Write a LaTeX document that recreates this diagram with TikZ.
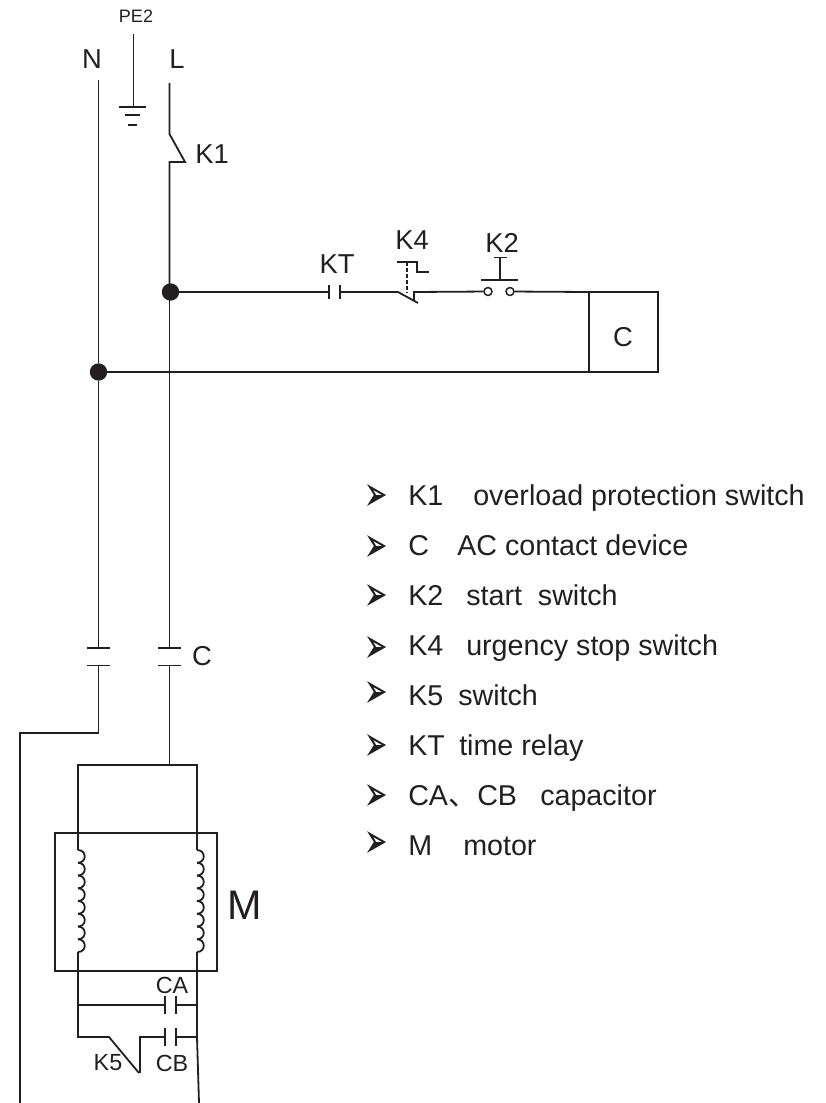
\documentclass[tikz,border=0pt]{standalone}
\usepackage{fontspec}
\setmainfont{Liberation Sans}
\newfontfamily\cjkfont{Noto Sans CJK SC}
\definecolor{ink}{HTML}{231F20}
\tikzset{
    wire/.style={draw=ink, line width=1.35pt},
    dot/.style={circle, fill=ink, inner sep=0pt, minimum size=13pt},
    term/.style={circle, draw=ink, line width=1.1pt, fill=white, inner sep=0pt, minimum size=6pt},
    boxed/.style={draw=ink, line width=1.35pt, inner sep=0pt, outer sep=0pt},
    lbl/.style={text=ink, font=\fontsize{20.5}{20.5}\selectfont, inner sep=0pt},
    smalllbl/.style={text=ink, font=\fontsize{17.5}{17.5}\selectfont, inner sep=0pt},
    pelbl/.style={text=ink, font=\fontsize{13.5}{13.5}\selectfont, inner sep=0pt},
    itemlbl/.style={text=ink, font=\fontsize{21.5}{21.5}\selectfont, inner sep=0pt, anchor=base west},
    legendmark/.pic={
        \draw[ink, line width=1.5pt, line join=miter, fill=white] (-7,-8) -- (7,0) -- (-7,8) -- (-2,0) -- cycle;
        \fill[ink] (-2,0) -- (8,0) -- (-8,9) -- cycle;
    }
}

\begin{document}
\begin{tikzpicture}[x=0.75pt, y=-0.75pt]
    \useasboundingbox (0,0) rectangle (825,1103);

    % Supply lines
    \node[lbl] (Nlabel) at (92,59) {N};
    \node[lbl] (Llabel) at (177,59) {L};
    \node[pelbl] (PElabel) at (136,16) {PE2};
    \coordinate (Ntop) at (98.5,80);
    \coordinate (Ltop) at (169.5,83);
    \coordinate (Ljoin) at (169.5,292);
    \node[dot] (Ndot) at (98.5,372) {};
    \node[dot] (Ldot) at (170.5,292) {};

    % Earth
    \coordinate (PEtop) at (133.5,34);
    \coordinate (PEbar) at (133.5,107);
    \draw[wire] (PEtop) -- (PEbar);
    \draw[wire] (119,107) -- (146,107);
    \draw[wire] (125,115) -- (140,115);
    \draw[wire] (128,125) -- (137,125);

    % K1
    \coordinate (K1a) at (169.5,134);
    \coordinate (K1b) at (185,162);
    \coordinate (K1c) at (169.5,162);
    \draw[wire] (Ltop) -- (K1a) -- (K1b) -- (K1c) -- (Ljoin);
    \node[lbl] (K1label) at (212,154) {K1};

    % Main contacts C
    \coordinate (Nplateup) at (98.5,648);
    \coordinate (Nplatedown) at (98.5,665.5);
    \coordinate (Lplateup) at (169.5,648);
    \coordinate (Lplatedown) at (169.5,665.5);
    \draw[wire] (Ntop) -- (Ndot) -- (Nplateup);
    \draw[wire] (Ljoin) -- (Lplateup);
    \foreach \x in {98.5,169.5} {
        \draw[wire] (\x-11.5,648) -- (\x+11.5,648);
        \draw[wire] (\x-11.5,665.5) -- (\x+11.5,665.5);
    }
    \node[lbl] (Clabel) at (202,656) {C};

    % Control branch
    \coordinate (KTa) at (329,292);
    \coordinate (KTb) at (340,292);
    \coordinate (K4a) at (398,292);
    \coordinate (K4b) at (418,303);
    \coordinate (K4c) at (414,300.5);
    \coordinate (K4d) at (414,292);
    \node[term] (K2a) at (488,291.5) {};
    \node[term] (K2b) at (510,291.5) {};
    \draw[wire] (Ldot) -- (KTa);
    \draw[wire] (KTb) -- (K4a) -- (K4b);
    \draw[wire] (K4c) -- (K4d) -- (K2a);
    \draw[wire] (329,285) -- (329,299);
    \draw[wire] (340,285) -- (340,299);
    \node[lbl] (KTlabel) at (337,264) {KT};

    % K4 actuator
    \draw[wire] (397,262) -- (417,262) -- (417,272) -- (429,272);
    \draw[wire, dash pattern=on 3pt off 1.5pt] (407,262) -- (407,293);
    \node[lbl] (K4label) at (412,240) {K4};

    % K2 push button
    \draw[wire] (494,257.5) -- (507,257.5);
    \draw[wire] (500,257.5) -- (500,280);
    \draw[wire] (481,280) -- (518,280);
    \node[lbl] (K2label) at (502,243) {K2};

    % Coil C
    \node[boxed, minimum width=51.75pt, minimum height=60pt] (Cbox) at (623.5,332) {};
    \node[lbl] (Cboxlabel) at (623,337) {C};
    \draw[wire] (K2b) -- (Cbox.north west);
    \draw[wire] (Ndot) -- (Cbox.south west);

    % Motor feed
    \coordinate (Nbendr) at (98.5,733);
    \coordinate (Nbendl) at (20,733);
    \coordinate (Nend) at (20,1103);
    \coordinate (Lfeed) at (169.5,765);
    \coordinate (Wleft) at (78,765);
    \coordinate (Wright) at (197,765);
    \draw[wire] (Nplatedown) -- (Nbendr) -- (Nbendl) -- (Nend);
    \draw[wire] (Lplatedown) -- (Lfeed);

    % Motor M
    \node[boxed, minimum width=121.5pt, minimum height=103.5pt] (Mbox) at (136,902) {};
    \node[font=\fontsize{31}{31}\selectfont, text=ink, inner sep=0pt] (Mlabel) at (245,905) {M};
    \coordinate (CoilLtop) at (78,850);
    \coordinate (CoilLend) at (78,952);
    \coordinate (CoilRtop) at (197,850);
    \coordinate (CoilRend) at (197,952);
    \draw[wire] (CoilLtop) -- (Wleft) -- (Wright) -- (CoilRtop);
    \foreach \x in {78,197} {
        \foreach \n in {0,...,7} {
            \draw[wire] (\x,850+12.75*\n) .. controls (\x+9,850+12.75*\n) and (\x+9,862.75+12.75*\n) .. (\x,862.75+12.75*\n);
        }
    }

    % Capacitors and K5
    \coordinate (CAleft) at (78,1005);
    \coordinate (CAa) at (165,1005);
    \coordinate (CAb) at (176,1005);
    \coordinate (CAright) at (197,1005);
    \coordinate (K5a) at (78,1037);
    \coordinate (K5b) at (109,1037);
    \coordinate (K5c) at (139,1073);
    \coordinate (K5d) at (140,1073);
    \coordinate (K5e) at (140,1037);
    \coordinate (CBa) at (165,1037);
    \coordinate (CBb) at (176,1037);
    \coordinate (CBright) at (197,1037);
    \coordinate (Rend) at (199,1103);
    \draw[wire] (CoilLend) -- (CAleft) -- (K5a) -- (K5b) -- (K5c);
    \draw[wire] (CoilRend) -- (CAright) -- (CBright) -- (Rend);
    \draw[wire] (CAleft) -- (CAa);
    \draw[wire] (CAb) -- (CAright);
    \draw[wire] (K5d) -- (K5e) -- (CBa);
    \draw[wire] (CBb) -- (CBright);
    \foreach \y in {1005,1037} {
        \draw[wire] (165,\y-9) -- (165,\y+9);
        \draw[wire] (176,\y-9) -- (176,\y+9);
    }
    \node[smalllbl] (CAlabel) at (172,985) {CA};
    \node[smalllbl] (CBlabel) at (172,1063) {CB};
    \node[smalllbl] (K5label) at (108,1063) {K5};

    % Legend
    \foreach \name/\ya/\yb/\gap/\txt in {
        K1/495/505/48.75pt/overload protection switch,
        C/546/555/36.75pt/AC contact device,
        K2/595/605/43.5pt/start\ \ switch,
        K4/647/655/43.5pt/urgency stop switch,
        K5/692/705/37.5pt/switch,
        KT/745/755/38.25pt/time relay,
        M/842/855/41.25pt/motor} {
        \pic at (377,\ya) {legendmark};
        \node[itemlbl] (t\name) at (408,\yb) {\makebox[\gap][l]{\name}\txt};
    }
    \pic at (377,795) {legendmark};
    \node[itemlbl] (tCA) at (408,805) {\makebox[99pt][l]{\makebox[51.75pt][l]{CA{\cjkfont 、}}CB}capacitor};
\end{tikzpicture}
\end{document}
